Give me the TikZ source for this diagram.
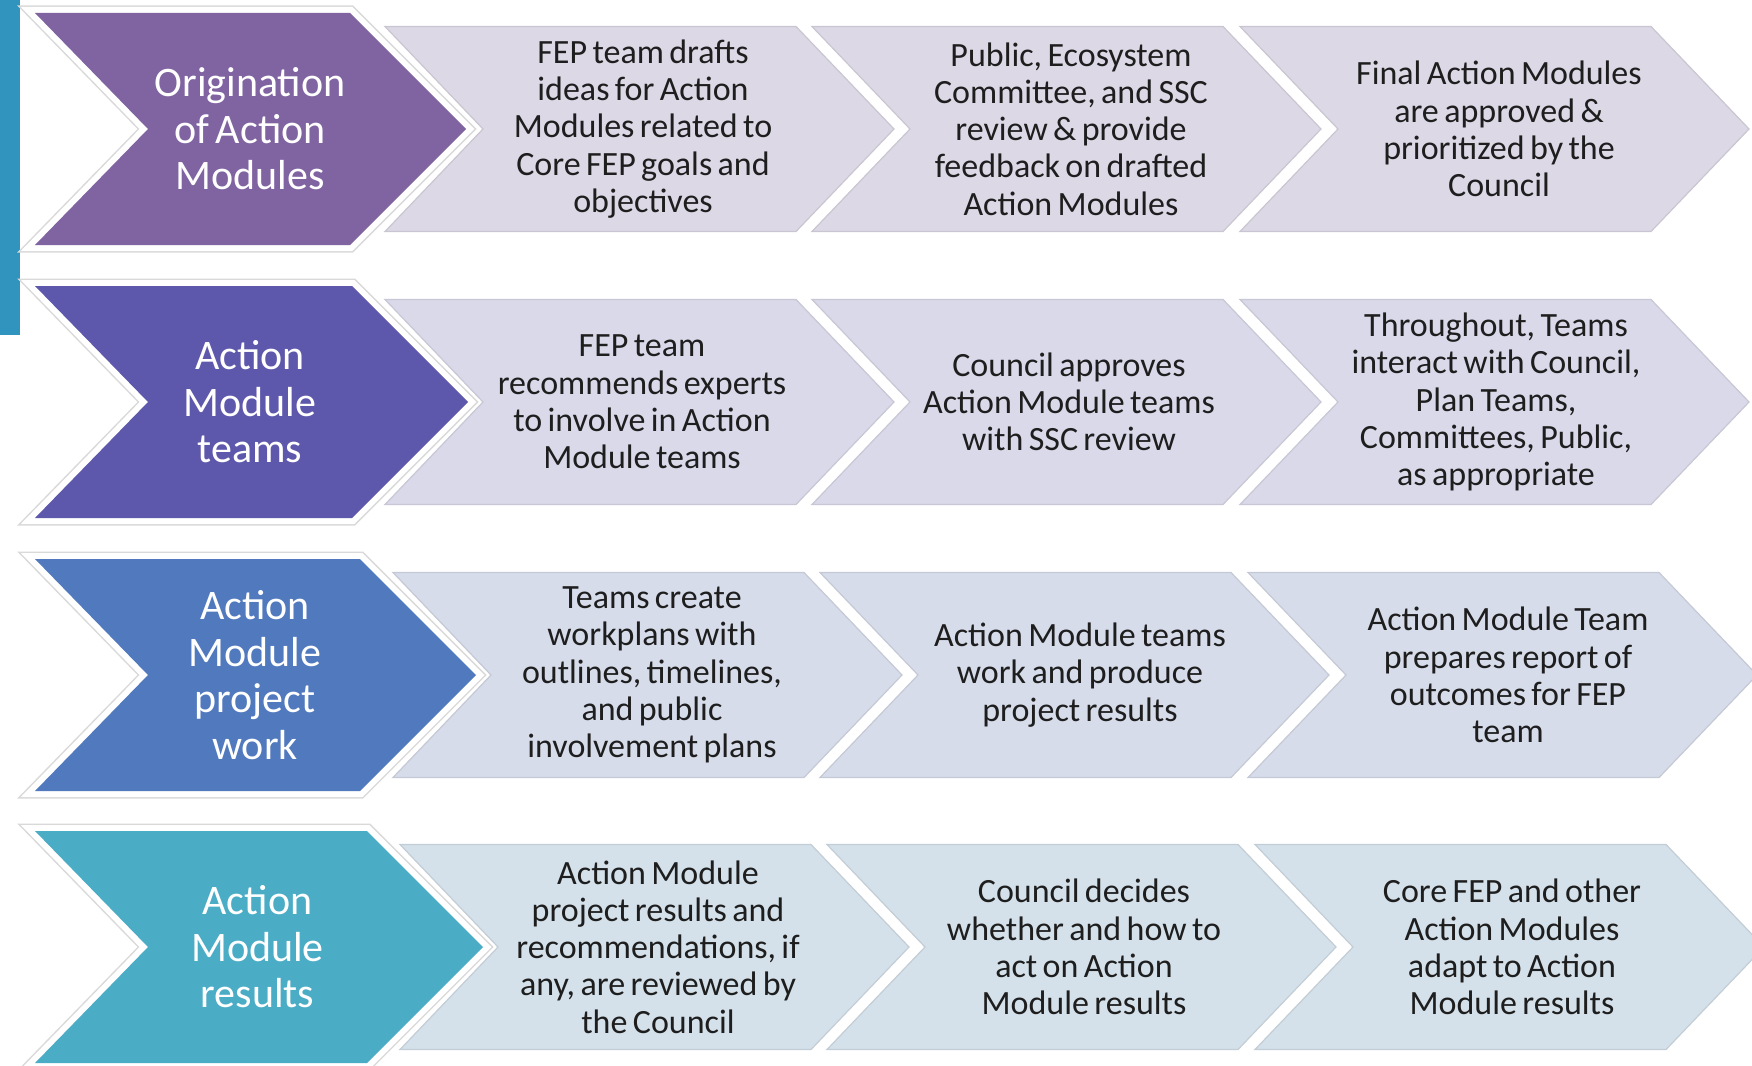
\documentclass[tikz,border=0pt]{standalone}
\usepackage{fontspec}
\setmainfont{Carlito}[WordSpace=0.7]
\definecolor{barc}{HTML}{3194BE}
\definecolor{bigA}{HTML}{8063A1}
\definecolor{bigB}{HTML}{5E58AC}
\definecolor{bigC}{HTML}{5079BE}
\definecolor{bigD}{HTML}{4BACC6}
\definecolor{liA}{HTML}{DCD8E6}
\definecolor{liB}{HTML}{D9D9EA}
\definecolor{liC}{HTML}{D6DCEA}
\definecolor{liD}{HTML}{D4E1EA}
\definecolor{txtc}{HTML}{1E1E1E}
\tikzset{
  bigtxt/.style={text=white, font=\fontsize{42}{46.5}\selectfont, align=center, inner sep=0pt},
  smalltxt/.style={text=txtc, font=\fontsize{34}{37.2}\selectfont, align=center, inner sep=0pt},
  lightshape/.style={fill=#1, draw=#1!80!gray, line width=1.2pt, line join=miter},
  bigouter/.style={draw=gray!30, line width=15pt, line join=miter},
  bigwhite/.style={draw=white, line width=12pt, line join=miter},
  bigfill/.style={fill=#1},
}
% chevron: left, centre y, corner x, tip depth, half height, notch depth
\newcommand\chevp[6]{(#1,#2-#5) -- (#3,#2-#5) -- (#3+#4,#2) -- (#3,#2+#5) -- (#1,#2+#5) -- (#1+#6,#2) -- cycle}
\begin{document}
\begin{tikzpicture}[x=1pt,y=-1pt]
\useasboundingbox (0,0) rectangle (1752,1065);
\clip (0,0) rectangle (1752,1065);
\fill[white] (0,0) rectangle (1752,1065);
% left bar
\fill[barc] (0,0) rectangle (20,335);
% rows: centre, light shift, big corner shift, colours
\foreach \c/\s/\b/\bc/\lc in {129/0/0/bigA/liA, 402/0/2/bigB/liB, 675/8/10/bigC/liC, 947/15/17/bigD/liD}{
  \foreach \L in {385,812,1240}{
    \path[lightshape=\lc] \chevp{\L+\s}{\c}{\L+\s+411}{98}{102.5}{98};
  }
  \path[bigouter] \chevp{35}{\c}{350+\b}{116}{116}{113};
  \path[bigwhite] \chevp{35}{\c}{350+\b}{116}{116}{113};
  \path[bigfill=\bc] \chevp{35}{\c}{350+\b}{116}{116}{113};
}
% row 1
\node[bigtxt] (r1a) at (250,129) {Origination\\of Action\\Modules};
\node[smalltxt] (r1b) at (643,129) {FEP team drafts\\ideas for Action\\Modules related to\\Core FEP goals and\\objectives};
\node[smalltxt] (r1c) at (1071,129) {Public, Ecosystem\\Committee, and SSC\\review \& provide\\feedback on drafted\\Action Modules};
\node[smalltxt] (r1d) at (1499,129) {Final Action Modules\\are approved \&\\prioritized by the\\Council};
% row 2
\node[bigtxt] (r2a) at (250,402) {Action\\Module\\teams};
\node[smalltxt] (r2b) at (642,402) {FEP team\\recommends experts\\to involve in Action\\Module teams};
\node[smalltxt] (r2c) at (1069,402) {Council approves\\Action Module teams\\with SSC review};
\node[smalltxt] (r2d) at (1496,402) {Throughout, Teams\\interact with Council,\\Plan Teams,\\Committees, Public,\\as appropriate};
% row 3
\node[bigtxt] (r3a) at (255,675) {Action\\Module\\project\\work};
\node[smalltxt] (r3b) at (652,675) {Teams create\\workplans with\\outlines, timelines,\\and public\\involvement plans};
\node[smalltxt] (r3c) at (1080,675) {Action Module teams\\work and produce\\project results};
\node[smalltxt] (r3d) at (1508,675) {Action Module Team\\prepares report of\\outcomes for FEP\\team};
% row 4
\node[bigtxt] (r4a) at (257.5,947) {Action\\Module\\results};
\node[smalltxt] (r4b) at (658,947) {Action Module\\project results and\\recommendations, if\\any, are reviewed by\\the Council};
\node[smalltxt] (r4c) at (1084,947) {Council decides\\whether and how to\\act on Action\\Module results};
\node[smalltxt] (r4d) at (1512,947) {Core FEP and other\\Action Modules\\adapt to Action\\Module results};
\end{tikzpicture}
\end{document}
